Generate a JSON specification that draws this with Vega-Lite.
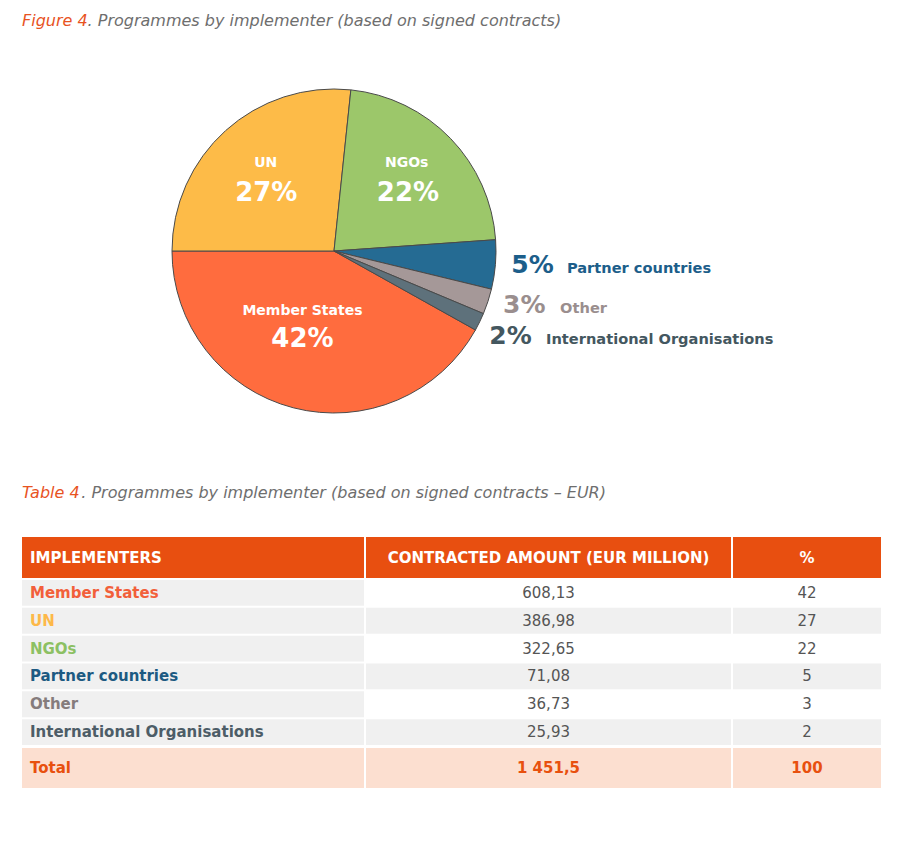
{
  "$schema": "https://vega.github.io/schema/vega-lite/v6.json",
  "background": "white",
  "padding": {"left": 22, "top": 13, "right": 10, "bottom": 10},
  "datasets": {
    "impl": [
      {"name": "Member States", "value": 608.13, "pct": 42},
      {"name": "UN", "value": 386.98, "pct": 27},
      {"name": "NGOs", "value": 322.65, "pct": 22},
      {"name": "Partner countries", "value": 71.08, "pct": 5},
      {"name": "Other", "value": 36.73, "pct": 3},
      {"name": "International Organisations", "value": 25.93, "pct": 2}
    ],
    "header": [{"implementers": "IMPLEMENTERS", "amount": "CONTRACTED AMOUNT (EUR MILLION)", "pct": "%"}],
    "total": [{"label": "Total", "value": 1451.5, "pct": 100}]
  },
  "spacing": 41,
  "resolve": {"scale": {"color": "independent"}},
  "vconcat": [
    {
      "title": {
        "text": "Figure 4",
        "anchor": "start",
        "frame": "group",
        "offset": -16,
        "font": "DejaVu Sans",
        "fontSize": 16,
        "fontStyle": "italic",
        "fontWeight": "normal",
        "color": "#E8531F"
      },
      "vconcat": [
        {
          "width": 624,
          "height": 324,
          "title": {
            "text": ". Programmes by implementer (based on signed contracts)",
            "anchor": "start",
            "frame": "group",
            "dx": 65.6,
            "offset": 58,
            "font": "DejaVu Sans",
            "fontSize": 16,
            "fontStyle": "italic",
            "fontWeight": "normal",
            "color": "#6E6E6E"
          },
          "data": {"name": "impl"},
          "transform": [
            {"window": [{"op": "row_number", "as": "rn"}]},
            {"calculate": "datum.pct + '%'", "as": "pctLabel"}
          ],
          "encoding": {
            "theta": {"field": "value", "type": "quantitative", "stack": true, "scale": {"range": [2.0799, 8.3631]}},
            "order": {"field": "rn", "type": "quantitative"}
          },
          "layer": [
            {
              "mark": {"type": "arc", "stroke": "#4a4a4a", "strokeWidth": 1},
              "encoding": {
                "color": {
                  "field": "name", "type": "nominal", "legend": null,
                  "scale": {
                    "domain": ["Member States", "UN", "NGOs", "Partner countries", "Other", "International Organisations"],
                    "range": ["#FF6C3E", "#FDBB48", "#9CC76A", "#256B93", "#A59898", "#5E717B"]
                  }
                }
              }
            },
            {
              "mark": {"type": "text", "radius": 100, "dx": -1.3, "dy": -9.7, "baseline": "alphabetic", "font": "DejaVu Sans", "fontWeight": "bold", "fontSize": 14, "color": "white"},
              "encoding": {"text": {"condition": {"test": "datum.name !== 'UN'", "value": ""}, "field": "name", "type": "nominal"}}
            },
            {
              "mark": {"type": "text", "radius": 100, "dx": -0.8, "dy": 24.3, "baseline": "alphabetic", "font": "DejaVu Sans", "fontWeight": "bold", "fontSize": 26, "color": "white"},
              "encoding": {"text": {"condition": {"test": "datum.name !== 'UN'", "value": ""}, "field": "pctLabel", "type": "nominal"}}
            },
            {
              "mark": {"type": "text", "radius": 100, "dx": 0.8, "dy": -14.5, "baseline": "alphabetic", "font": "DejaVu Sans", "fontWeight": "bold", "fontSize": 14, "color": "white"},
              "encoding": {"text": {"condition": {"test": "datum.name !== 'NGOs'", "value": ""}, "field": "name", "type": "nominal"}}
            },
            {
              "mark": {"type": "text", "radius": 100, "dx": 2, "dy": 19.5, "baseline": "alphabetic", "font": "DejaVu Sans", "fontWeight": "bold", "fontSize": 26, "color": "white"},
              "encoding": {"text": {"condition": {"test": "datum.name !== 'NGOs'", "value": ""}, "field": "pctLabel", "type": "nominal"}}
            },
            {
              "mark": {"type": "text", "radius": 80, "dx": -11.4, "dy": -13.4, "baseline": "alphabetic", "font": "DejaVu Sans", "fontWeight": "bold", "fontSize": 14, "color": "white"},
              "encoding": {"text": {"condition": {"test": "datum.name !== 'Member States'", "value": ""}, "field": "name", "type": "nominal"}}
            },
            {
              "mark": {"type": "text", "radius": 80, "dx": -11.4, "dy": 18.6, "baseline": "alphabetic", "font": "DejaVu Sans", "fontWeight": "bold", "fontSize": 26, "color": "white"},
              "encoding": {"text": {"condition": {"test": "datum.name !== 'Member States'", "value": ""}, "field": "pctLabel", "type": "nominal"}}
            },
            {
              "mark": {"type": "text", "radius": 178, "align": "left", "dx": 0, "dy": 7, "baseline": "alphabetic", "font": "DejaVu Sans", "fontWeight": "bold", "fontSize": 25, "color": "#1C5E8A"},
              "encoding": {"text": {"condition": {"test": "datum.name !== 'Partner countries'", "value": ""}, "field": "pctLabel", "type": "nominal"}}
            },
            {
              "mark": {"type": "text", "radius": 178, "align": "left", "dx": 55.6, "dy": 7, "baseline": "alphabetic", "font": "DejaVu Sans", "fontWeight": "bold", "fontSize": 14.6, "color": "#1C5E8A"},
              "encoding": {"text": {"condition": {"test": "datum.name !== 'Partner countries'", "value": ""}, "field": "name", "type": "nominal"}}
            },
            {
              "mark": {"type": "text", "radius": 178, "align": "left", "dx": 0, "dy": 6.5, "baseline": "alphabetic", "font": "DejaVu Sans", "fontWeight": "bold", "fontSize": 25, "color": "#9A8E8E"},
              "encoding": {"text": {"condition": {"test": "datum.name !== 'Other'", "value": ""}, "field": "pctLabel", "type": "nominal"}}
            },
            {
              "mark": {"type": "text", "radius": 178, "align": "left", "dx": 57, "dy": 6.5, "baseline": "alphabetic", "font": "DejaVu Sans", "fontWeight": "bold", "fontSize": 14.6, "color": "#9A8E8E"},
              "encoding": {"text": {"condition": {"test": "datum.name !== 'Other'", "value": ""}, "field": "name", "type": "nominal"}}
            },
            {
              "mark": {"type": "text", "radius": 178, "align": "left", "dx": -4.8, "dy": 15, "baseline": "alphabetic", "font": "DejaVu Sans", "fontWeight": "bold", "fontSize": 25, "color": "#44575F"},
              "encoding": {"text": {"condition": {"test": "datum.name !== 'International Organisations'", "value": ""}, "field": "pctLabel", "type": "nominal"}}
            },
            {
              "mark": {"type": "text", "radius": 178, "align": "left", "dx": 52, "dy": 15, "baseline": "alphabetic", "font": "DejaVu Sans", "fontWeight": "bold", "fontSize": 14.6, "color": "#44575F"},
              "encoding": {"text": {"condition": {"test": "datum.name !== 'International Organisations'", "value": ""}, "field": "name", "type": "nominal"}}
            }
          ]
        }
      ]
    },
    {
      "title": {
        "text": "Table 4",
        "anchor": "start",
        "frame": "group",
        "offset": -16,
        "font": "DejaVu Sans",
        "fontSize": 16,
        "fontStyle": "italic",
        "fontWeight": "normal",
        "color": "#E8531F"
      },
      "vconcat": [
        {
          "title": {
            "text": ". Programmes by implementer (based on signed contracts – EUR)",
            "anchor": "start",
            "frame": "group",
            "dx": 59.3,
            "offset": 36,
            "font": "DejaVu Sans",
            "fontSize": 16,
            "fontStyle": "italic",
            "fontWeight": "normal",
            "color": "#6E6E6E"
          },
          "spacing": 2,
          "hconcat": [
            {
              "spacing": 2,
              "vconcat": [
                {
                  "width": 342, "height": 41,
                  "view": {"fill": "#E84F10", "stroke": null},
                  "data": {"name": "header"},
                  "mark": {"type": "text", "align": "left", "dx": 8, "font": "DejaVu Sans", "fontWeight": "bold", "fontSize": 15, "color": "white"},
                  "encoding": {"x": {"value": 0}, "text": {"field": "implementers", "type": "nominal"}}
                },
                {
                  "width": 342, "height": 165,
                  "data": {"name": "impl"},
                  "encoding": {"y": {"field": "name", "type": "nominal", "sort": null, "axis": null, "scale": {"paddingInner": 0.073, "paddingOuter": 0}}},
                  "layer": [
                    {"mark": {"type": "rect", "color": "#F0F0F0"}},
                    {
                      "mark": {"type": "text", "align": "left", "dx": 8, "font": "DejaVu Sans", "fontWeight": "bold", "fontSize": 15},
                      "encoding": {
                        "x": {"value": 0},
                        "text": {"field": "name", "type": "nominal"},
                        "color": {
                          "field": "name", "type": "nominal", "legend": null,
                          "scale": {
                            "domain": ["Member States", "UN", "NGOs", "Partner countries", "Other", "International Organisations"],
                            "range": ["#F25F3A", "#FDB849", "#8CC063", "#1D5A82", "#857C7C", "#4D5D67"]
                          }
                        }
                      }
                    }
                  ]
                },
                {
                  "width": 342, "height": 40,
                  "view": {"fill": "#FCDFD0", "stroke": null},
                  "data": {"name": "total"},
                  "mark": {"type": "text", "align": "left", "dx": 8, "font": "DejaVu Sans", "fontWeight": "bold", "fontSize": 15, "color": "#E8500E"},
                  "encoding": {"x": {"value": 0}, "text": {"field": "label", "type": "nominal"}}
                }
              ]
            },
            {
              "spacing": 2,
              "vconcat": [
                {
                  "width": 365, "height": 41,
                  "view": {"fill": "#E84F10", "stroke": null},
                  "data": {"name": "header"},
                  "mark": {"type": "text", "font": "DejaVu Sans", "fontWeight": "bold", "fontSize": 15, "color": "white"},
                  "encoding": {"text": {"field": "amount", "type": "nominal"}}
                },
                {
                  "width": 365, "height": 165,
                  "data": {"name": "impl"},
                  "transform": [{"window": [{"op": "row_number", "as": "rn"}]}],
                  "encoding": {"y": {"field": "name", "type": "nominal", "sort": null, "axis": null, "scale": {"paddingInner": 0.073, "paddingOuter": 0}}},
                  "layer": [
                    {"mark": {"type": "rect"}, "encoding": {"color": {"condition": {"test": "datum.rn % 2 == 0", "value": "#F0F0F0"}, "value": "#FFFFFF"}}},
                    {
                      "mark": {"type": "text", "font": "DejaVu Sans", "fontSize": 15, "color": "#555555"},
                      "encoding": {"text": {"field": "value", "type": "quantitative", "format": ",.2f"}}
                    }
                  ]
                },
                {
                  "width": 365, "height": 40,
                  "view": {"fill": "#FCDFD0", "stroke": null},
                  "data": {"name": "total"},
                  "mark": {"type": "text", "font": "DejaVu Sans", "fontWeight": "bold", "fontSize": 15, "color": "#E8500E"},
                  "encoding": {"text": {"field": "value", "type": "quantitative", "format": ",.1f"}}
                }
              ]
            },
            {
              "spacing": 2,
              "vconcat": [
                {
                  "width": 148, "height": 41,
                  "view": {"fill": "#E84F10", "stroke": null},
                  "data": {"name": "header"},
                  "mark": {"type": "text", "font": "DejaVu Sans", "fontWeight": "bold", "fontSize": 15, "color": "white"},
                  "encoding": {"text": {"field": "pct", "type": "nominal"}}
                },
                {
                  "width": 148, "height": 165,
                  "data": {"name": "impl"},
                  "transform": [{"window": [{"op": "row_number", "as": "rn"}]}],
                  "encoding": {"y": {"field": "name", "type": "nominal", "sort": null, "axis": null, "scale": {"paddingInner": 0.073, "paddingOuter": 0}}},
                  "layer": [
                    {"mark": {"type": "rect"}, "encoding": {"color": {"condition": {"test": "datum.rn % 2 == 0", "value": "#F0F0F0"}, "value": "#FFFFFF"}}},
                    {
                      "mark": {"type": "text", "font": "DejaVu Sans", "fontSize": 15, "color": "#555555"},
                      "encoding": {"text": {"field": "pct", "type": "quantitative", "format": "d"}}
                    }
                  ]
                },
                {
                  "width": 148, "height": 40,
                  "view": {"fill": "#FCDFD0", "stroke": null},
                  "data": {"name": "total"},
                  "mark": {"type": "text", "font": "DejaVu Sans", "fontWeight": "bold", "fontSize": 15, "color": "#E8500E"},
                  "encoding": {"text": {"field": "pct", "type": "quantitative", "format": "d"}}
                }
              ]
            }
          ]
        }
      ]
    }
  ],
  "config": {
    "view": {"stroke": null},
    "text": {"font": "DejaVu Sans"},
    "locale": {"number": {"decimal": ",", "thousands": " ", "grouping": [3], "currency": ["", " €"]}}
  }
}
